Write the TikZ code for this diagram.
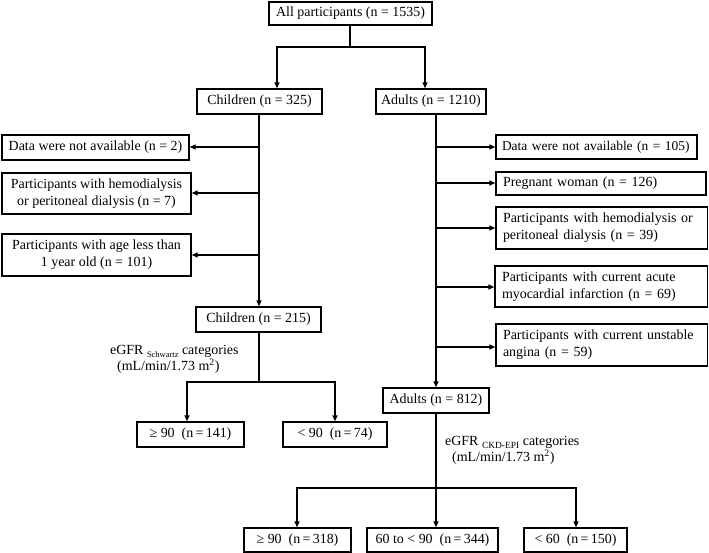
\documentclass[tikz,border=0pt]{standalone}
\usepackage{fontspec}
\setmainfont{Liberation Serif}
\usetikzlibrary{arrows.meta}
\begin{document}
\begin{tikzpicture}[x=1bp,y=-1bp,
  every node/.style={font=\fontsize{14}{17}\selectfont},
  box/.style={draw, line width=1.3bp, inner sep=0pt, align=center},
  rbox/.style={draw, line width=1.3bp, inner xsep=7bp, inner ysep=0pt, align=left},
  lbl/.style={inner sep=0pt, align=left, anchor=north west, font=\fontsize{14}{16}\selectfont},
  conn/.style={line width=1.3bp},
  arr/.style={conn, -{Triangle[length=6bp,width=5bp]}}]
\useasboundingbox (0,0) rectangle (709,553);
% nodes
\node[box, minimum width=163bp, minimum height=23bp] (all) at (350.5,13.5) {All participants (n = 1535)};
\node[box, minimum width=125bp, minimum height=25bp] (ch325) at (259.5,101.5) {Children (n = 325)};
\node[box, minimum width=110bp, minimum height=25bp] (ad1210) at (431,101.5) {Adults (n = 1210)};
\node[box, minimum width=187bp, minimum height=25bp] (L1) at (95.5,147.5) {Data were not available (n = 2)};
\node[box, minimum width=189bp, minimum height=41bp] (L2) at (96.5,193.5) {Participants with hemodialysis\\or peritoneal dialysis (n = 7)};
\node[box, minimum width=189bp, minimum height=42bp] (L3) at (96.5,255) {Participants with age less than\\1 year old (n = 101)};
\node[box, minimum width=125bp, minimum height=25bp] (ch215) at (258.5,319.5) {Children (n = 215)};
\node[box, minimum width=107bp, minimum height=25bp] (c1) at (190.5,434.5) {≥ 90\ \ (n\,=\,141)};
\node[box, minimum width=104bp, minimum height=25bp] (c2) at (335,434.5) {< 90\ \ (n\,=\,74)};
\node[rbox, inner xsep=6bp, text width=189bp, minimum height=24bp, font=\fontsize{13.5}{17}\selectfont] (R1) at (596.5,147) {\mbox{Data were not available (n = 105)}};
\node[rbox, text width=196bp, minimum height=23bp] (R2) at (601,183.5) {\mbox{Pregnant woman (n = 126)}};
\node[rbox, text width=197.5bp, minimum height=42bp] (R3) at (601.75,228) {\mbox{Participants with hemodialysis or}\\\mbox{peritoneal dialysis (n = 39)}};
\node[rbox, text width=198.5bp, minimum height=41bp] (R4) at (601.25,286.5) {\mbox{Participants with current acute}\\\mbox{myocardial infarction (n = 69)}};
\node[rbox, text width=197.5bp, minimum height=42bp] (R5) at (601.75,345) {\mbox{Participants with current unstable}\\\mbox{angina (n = 59)}};
\node[box, minimum width=106bp, minimum height=25bp] (ad812) at (436,400.5) {Adults (n = 812)};
\node[box, minimum width=107bp, minimum height=24bp] (b1) at (297.5,540) {≥ 90\ \ (n\,=\,318)};
\node[box, minimum width=131bp, minimum height=24bp] (b2) at (432.5,540) {60 to < 90\ \ (n\,=\,344)};
\node[box, minimum width=103bp, minimum height=24bp] (b3) at (575.5,540) {< 60\ \ (n\,=\,150)};
% labels
\node[lbl] (lab1) at (110,345.5) {eGFR \raisebox{-0.35ex}{\fontsize{8.5}{9}\selectfont Schwartz} categories\\\hspace{7bp}(mL/min/1.73 m\textsuperscript{2})};
\node[lbl] (lab2) at (445,436.5) {eGFR \raisebox{-0.35ex}{\fontsize{9.5}{10}\selectfont CKD-EPI} categories\\\hspace{7bp}(mL/min/1.73 m\textsuperscript{2})};
% junctions
\coordinate (j1) at (350,47);
\coordinate (jL1) at (259,147);
\coordinate (jL2) at (259,193);
\coordinate (jL3) at (259,255);
\coordinate (j2) at (259,382);
\coordinate (jR1) at (436,147);
\coordinate (jR2) at (436,183);
\coordinate (jR3) at (436,228);
\coordinate (jR4) at (436,287);
\coordinate (jR5) at (436,347);
\coordinate (j3) at (436,488);
% connectors
\draw[conn] (all.south -| j1) -- (j1);
\draw[arr] (j1) -| (277,0 |- ch325.north);
\draw[arr] (j1) -| (425,0 |- ad1210.north);
\draw[arr] (259,0 |- ch325.south) -- (259,0 |- ch215.north);
\draw[arr] (jL1) -- (L1.east |- jL1);
\draw[arr] (jL2) -- (L2.east |- jL2);
\draw[arr] (jL3) -- (L3.east |- jL3);
\draw[conn] (259,0 |- ch215.south) -- (j2);
\draw[arr] (j2) -| (187,0 |- c1.north);
\draw[arr] (j2) -| (335,0 |- c2.north);
\draw[arr] (436,0 |- ad1210.south) -- (ad812.north);
\draw[arr] (jR1) -- (R1.west |- jR1);
\draw[arr] (jR2) -- (R2.west |- jR2);
\draw[arr] (jR3) -- (R3.west |- jR3);
\draw[arr] (jR4) -- (R4.west |- jR4);
\draw[arr] (jR5) -- (R5.west |- jR5);
\draw[conn] (ad812.south) -- (j3);
\draw[arr] (j3) -| (297,0 |- b1.north);
\draw[arr] (j3) -- (436,0 |- b2.north);
\draw[arr] (j3) -| (576,0 |- b3.north);
\end{tikzpicture}
\end{document}
